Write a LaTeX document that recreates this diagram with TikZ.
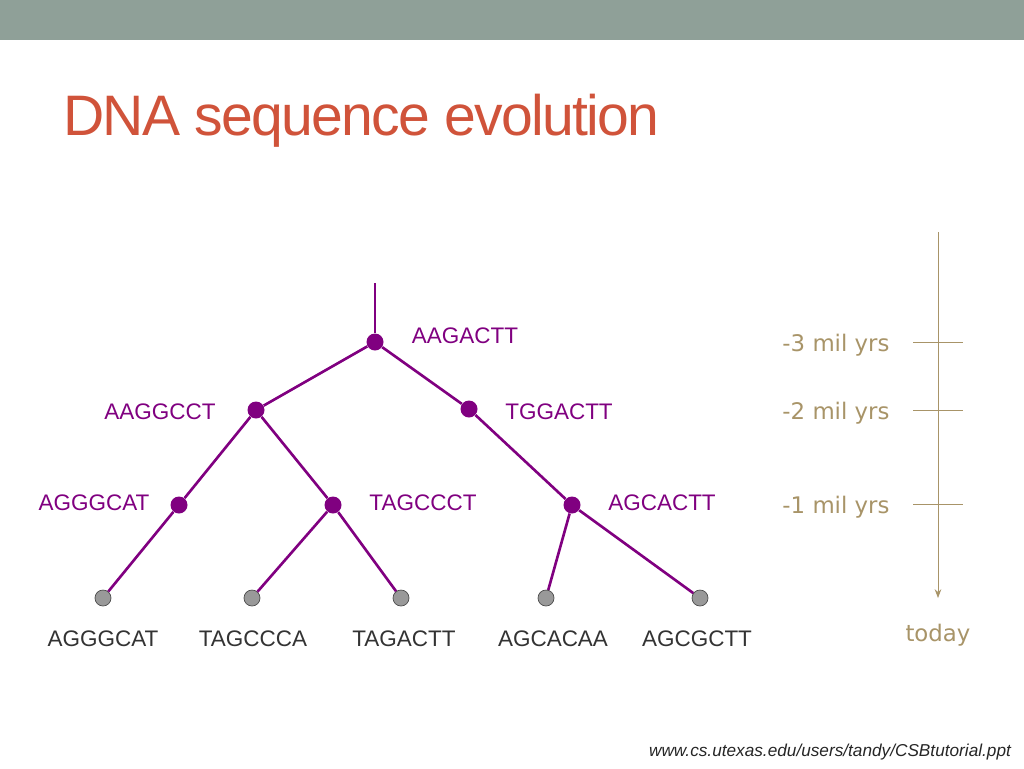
\documentclass[tikz,border=0pt]{standalone}
\usepackage{fontspec}
\setmainfont{Liberation Sans}
\newfontfamily\dejavu{DejaVu Sans}
\usetikzlibrary{arrows.meta}
\definecolor{barcol}{HTML}{8FA098}
\definecolor{titlecol}{HTML}{D0533A}
\definecolor{treecol}{HTML}{800080}
\definecolor{timecol}{HTML}{A89468}
\tikzset{
  inner/.style={circle,fill=treecol,inner sep=0pt,minimum size=17*0.02cm},
  leaf/.style={circle,draw=black!70,fill=black!40,inner sep=0pt,minimum size=16*0.02cm},
  seq/.style={text=treecol,font=\fontsize{12.8}{15}\selectfont},
  leafseq/.style={text=black!80,font=\fontsize{12.8}{15}\selectfont},
  era/.style={text=timecol,font=\dejavu\fontsize{13}{15}\selectfont},
  branch/.style={treecol,line width=1.5pt}
}
\begin{document}
\begin{tikzpicture}[x=0.02cm,y=-0.02cm]
  \useasboundingbox (0,0) rectangle (1024,768);
  \fill[barcol] (0,0) rectangle (1024,40);
  \node[anchor=base west,text=titlecol,inner sep=0pt,
    font=\fontsize{32.5}{36}\selectfont\addfontfeature{LetterSpace=-3}] (title) at (63,135) {DNA sequence evolution};

  % internal nodes
  \coordinate (top) at (375,283);
  \node[inner] (r)   at (375,342) {};
  \node[inner] (a)   at (256,410) {};
  \node[inner] (b)   at (469,409) {};
  \node[inner] (a1)  at (179,505) {};
  \node[inner] (a2)  at (333,505) {};
  \node[inner] (b1)  at (572,505) {};
  % leaves
  \node[leaf] (l1) at (103,598) {};
  \node[leaf] (l2) at (252,598) {};
  \node[leaf] (l3) at (401,598) {};
  \node[leaf] (l4) at (546,598) {};
  \node[leaf] (l5) at (700,598) {};

  \draw[branch] (top) -- (r);
  \draw[branch] (r) -- (a);
  \draw[branch] (r) -- (b);
  \draw[branch] (a) -- (a1);
  \draw[branch] (a) -- (a2);
  \draw[branch] (b) -- (b1);
  \draw[branch] (a1) -- (l1);
  \draw[branch] (a2) -- (l2);
  \draw[branch] (a2) -- (l3);
  \draw[branch] (b1) -- (l4);
  \draw[branch] (b1) -- (l5);

  % sequences
  \node[seq] (sr)  at (465,336) {AAGACTT};
  \node[seq] (sa)  at (160,412) {AAGGCCT};
  \node[seq] (sb)  at (559,412) {TGGACTT};
  \node[seq] (sa1) at (94,503)  {AGGGCAT};
  \node[seq] (sa2) at (423,503) {TAGCCCT};
  \node[seq] (sb1) at (662,503) {AGCACTT};
  \node[leafseq] (s1) at (103,639) {AGGGCAT};
  \node[leafseq] (s2) at (253,639) {TAGCCCA};
  \node[leafseq] (s3) at (404,639) {TAGACTT};
  \node[leafseq] (s4) at (553,639) {AGCACAA};
  \node[leafseq] (s5) at (697,639) {AGCGCTT};

  % time axis
  \coordinate (t0) at (938,232);
  \coordinate (t1) at (938,598);
  \draw[timecol,-{Stealth[length=5pt]}] (t0) -- (t1);
  \foreach \y/\lab in {342/-3, 410/-2, 504/-1}{
    \draw[timecol] (913,\y) -- (963,\y);
    \node[era] at (836,\y+3) {\lab{} mil yrs};
  }
  \node[era] (today) at (938,635) {today};

  \node[text=black!85,font=\fontsize{9.8}{12}\itshape] (url) at (830,752)
    {www.cs.utexas.edu/users/tandy/CSBtutorial.ppt};
\end{tikzpicture}
\end{document}
